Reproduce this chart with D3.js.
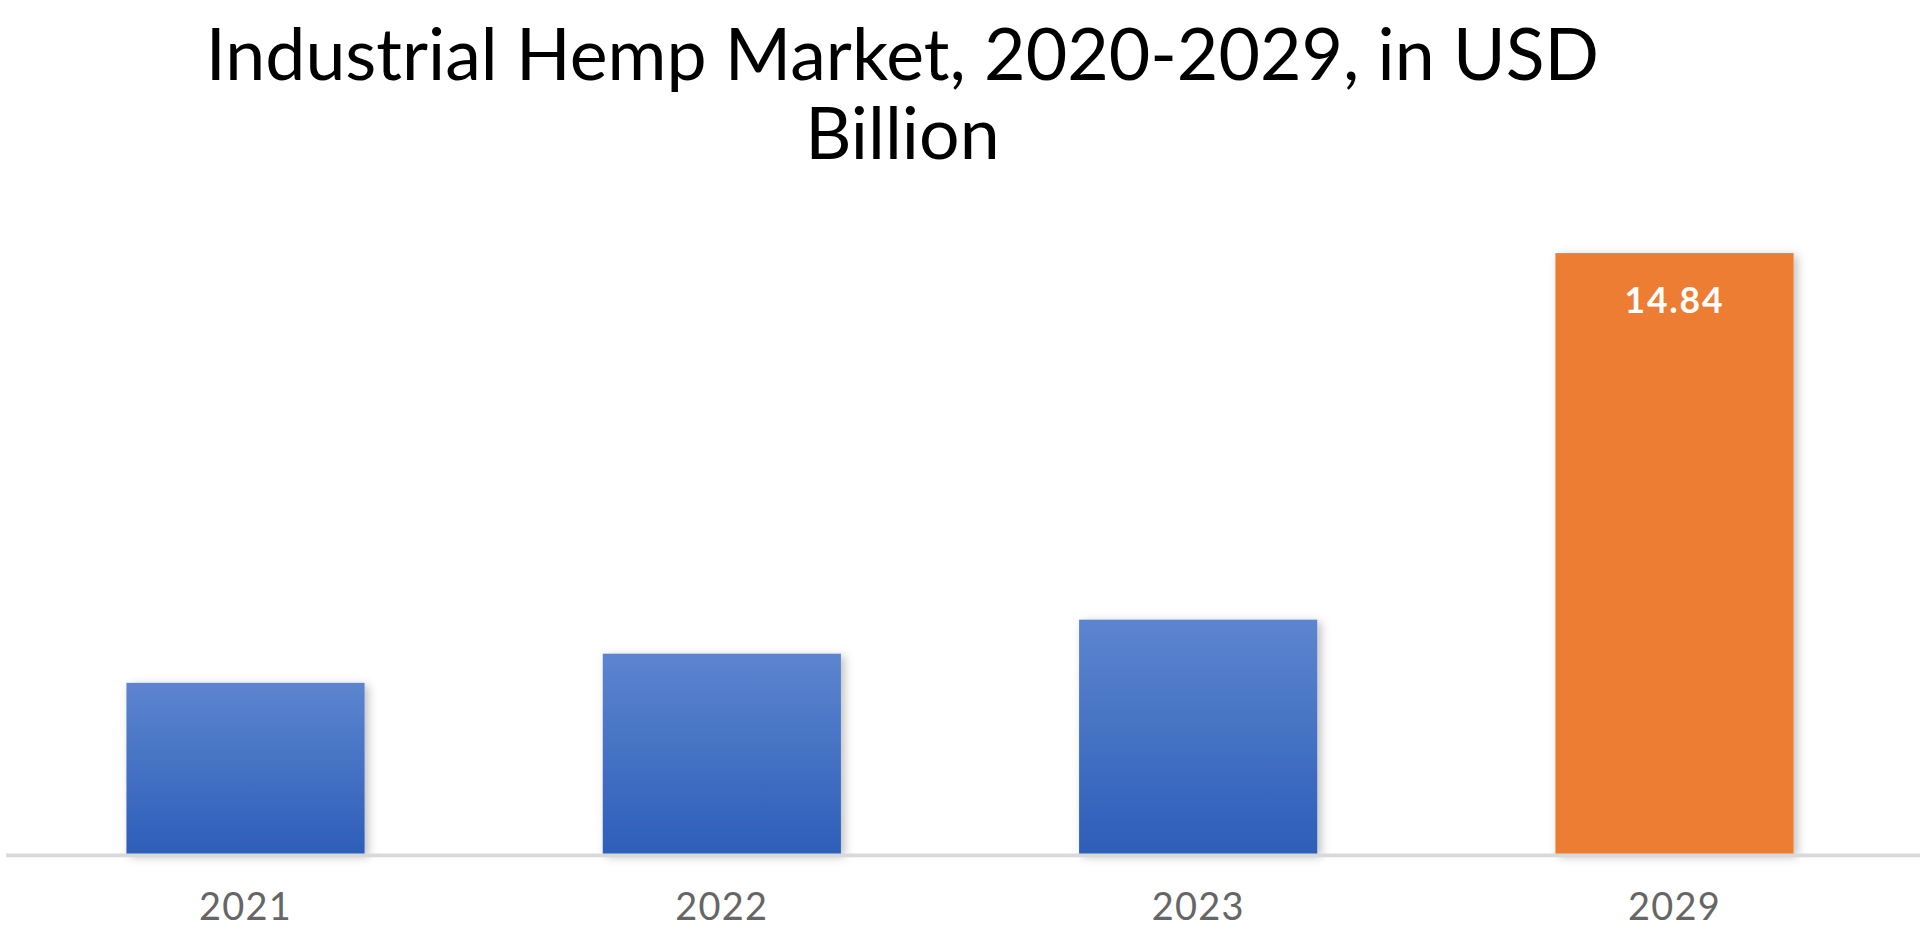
<!DOCTYPE html>
<html><head><meta charset="utf-8">
<script src="https://cdn.jsdelivr.net/npm/d3@7"></script>
<style>body{margin:0;background:#fff;overflow:hidden}</style>
</head><body>
<script>
const categories = ["2021","2022","2023","2029"];
const values = [4.23, 4.95, 5.79, 14.84];
const labels = ["", "", "", "14.84"];
const titleLines = ["Industrial Hemp Market, 2020-2029, in USD", "Billion"];

const W=1568,H=775;
const svg=d3.select("body").append("svg").attr("width",1920).attr("height",943)
  .attr("viewBox",`0 0 ${W} ${H}`).attr("preserveAspectRatio","none");
const defs=svg.append("defs");
const g=defs.append("linearGradient").attr("id","blue").attr("x1",0).attr("y1",0).attr("x2",0).attr("y2",1);
g.append("stop").attr("offset","0%").attr("stop-color","#5d85cf");
g.append("stop").attr("offset","100%").attr("stop-color","#2d5eb9");
const f=defs.append("filter").attr("id","sh").attr("x","-10%").attr("y","-10%").attr("width","130%").attr("height","120%");
f.append("feDropShadow").attr("dx",3).attr("dy",2).attr("stdDeviation",4).attr("flood-color","#000").attr("flood-opacity",0.25);

const x=d3.scaleBand().domain(categories).range([6,1562]).paddingInner(0.5).paddingOuter(0.25);
const y=d3.scaleLinear().domain([0,14.84]).range([702,208]);

svg.append("g").selectAll("rect").data(categories).join("rect")
  .attr("x",d=>x(d)).attr("width",x.bandwidth())
  .attr("y",(d,i)=>y(values[i])).attr("height",(d,i)=>702-y(values[i]))
  .attr("fill",(d,i)=>i===3?"#ed7d31":"url(#blue)").attr("filter","url(#sh)");

svg.append("line").attr("x1",5).attr("x2",1568).attr("y1",703).attr("y2",703)
  .attr("stroke","#d9d9d9").attr("stroke-width",3);

const ax=d3.axisBottom(x).tickSize(0).tickPadding(0);
const axg=svg.append("g").attr("transform","translate(0,733)").call(ax);
axg.select(".domain").remove();
axg.selectAll("text").attr("font-family","Lato, 'Noto Sans', sans-serif").attr("font-size",31)
  .attr("fill","#666666").attr("dy","0.75em").attr("letter-spacing",1);

svg.append("g").selectAll("text").data(categories).join("text")
  .attr("x",d=>x(d)+x.bandwidth()/2).attr("y",(d,i)=>y(values[i])+49)
  .attr("text-anchor","middle").attr("font-family","Lato, 'Noto Sans', sans-serif")
  .attr("font-weight","bold").attr("font-size",29).attr("fill","#fff").attr("letter-spacing",1.5)
  .text((d,i)=>labels[i]);

svg.append("g").selectAll("text").data(titleLines).join("text")
  .attr("x",737).attr("y",(d,i)=>66+i*65).attr("text-anchor","middle")
  .attr("font-family","Lato, 'Noto Sans', sans-serif").attr("font-size",58.5).attr("fill","#000")
  .text(d=>d);
</script>
</body></html>
